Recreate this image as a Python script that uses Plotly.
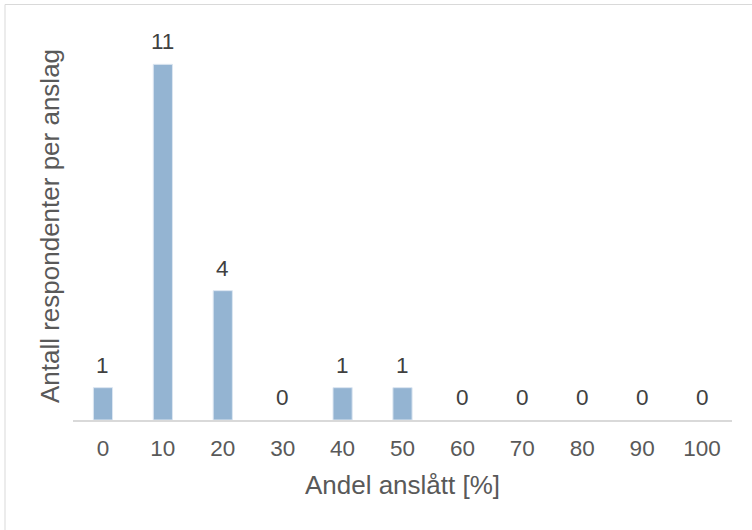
import plotly.graph_objects as go

# Share of respondents' estimates, grouped in 10 % bins
categories = ["0", "10", "20", "30", "40", "50", "60", "70", "80", "90", "100"]
counts = [1, 11, 4, 0, 1, 1, 0, 0, 0, 0, 0]

x_title = "Andel anslått [%]"
y_title = "Antall respondenter per anslag"

W, H = 752, 530
M_L, M_R, M_T, M_B = 73, 20, 32, 110
plot_w = W - M_L - M_R
plot_h = H - M_T - M_B

font_family = "Liberation Sans, Arial, sans-serif"
bar_color = "#94b4d2"
label_color = "#404040"
axis_text_color = "#595959"
frame_color = "#d9d9d9"

fig = go.Figure(
    go.Bar(
        x=categories,
        y=counts,
        width=0.32,
        marker=dict(
            color=bar_color,
            # light outline only on bars that have height
            line=dict(color="#dce6f1", width=[1 if v > 0 else 0 for v in counts]),
        ),
        hoverinfo="x+y",
    )
)

# value labels above each bar (x given as category index)
for i, val in enumerate(counts):
    fig.add_annotation(
        x=i, y=val, xref="x", yref="y",
        text=str(val), showarrow=False,
        yanchor="bottom", yshift=8,
        font=dict(family=font_family, size=22.5, color=label_color),
    )

# chart-area frame: only the left and top edges fall inside the page
def px_to_paper_x(px):
    return (px - M_L) / plot_w

def px_to_paper_y(py):
    return (H - M_B - py) / plot_h

frame_left, frame_top = 5, 4.5
fig.add_shape(
    type="line", xref="paper", yref="paper",
    x0=px_to_paper_x(frame_left), y0=px_to_paper_y(H),
    x1=px_to_paper_x(frame_left), y1=px_to_paper_y(frame_top),
    line=dict(color=frame_color, width=1), layer="below",
)
fig.add_shape(
    type="line", xref="paper", yref="paper",
    x0=px_to_paper_x(frame_left), y0=px_to_paper_y(frame_top),
    x1=px_to_paper_x(W), y1=px_to_paper_y(frame_top),
    line=dict(color=frame_color, width=1), layer="below",
)

fig.update_layout(
    width=W, height=H,
    margin=dict(l=M_L, r=M_R, t=M_T, b=M_B, pad=0),
    paper_bgcolor="white", plot_bgcolor="white",
    showlegend=False,
    font=dict(family=font_family, color=axis_text_color),
    xaxis=dict(
        type="category",
        categoryorder="array", categoryarray=categories,
        range=[-0.5, len(categories) - 0.5],
        tickangle=0,
        showline=True, linecolor=frame_color, linewidth=1.5,
        ticks="outside", ticklen=7, tickcolor="rgba(0,0,0,0)",
        tickfont=dict(size=22.5, color=axis_text_color),
        showgrid=False, zeroline=False,
        title=dict(text=x_title, font=dict(size=26, color=axis_text_color), standoff=16),
    ),
    yaxis=dict(
        range=[0, 12],
        showticklabels=False, showgrid=False, zeroline=False, showline=False,
        title=dict(text=y_title, font=dict(size=26, color=axis_text_color), standoff=4),
    ),
)

fig.write_html("out.html")
